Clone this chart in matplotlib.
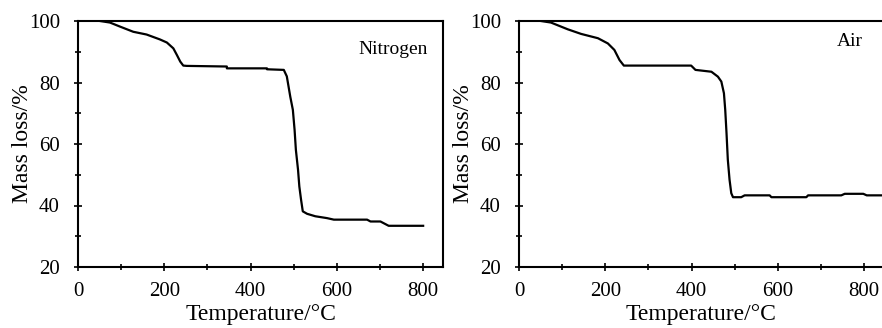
import matplotlib
matplotlib.use("Agg")
import matplotlib.pyplot as plt
from matplotlib.ticker import MultipleLocator

plt.rcParams['font.family'] = ['Liberation Serif', 'DejaVu Serif']

n2_temp = [51, 74, 97, 128, 159, 190, 206, 221, 229, 237, 244, 252, 345, 345, 438, 438, 477,
           484, 488, 492, 498, 502, 505, 510, 513, 517, 521, 531, 550, 577, 593, 670, 678,
           701, 720, 800]
n2_mass = [100, 99.5, 98.2, 96.5, 95.6, 94.0, 93.0, 91.1, 89.0, 86.8, 85.5, 85.4, 85.2, 84.6,
           84.6, 84.3, 84.1, 82.0, 78.7, 75.4, 71.1, 64.6, 58.1, 51.6, 46.2, 41.9, 38.1,
           37.3, 36.5, 35.9, 35.4, 35.4, 34.8, 34.8, 33.4, 33.4]

air_temp = [51, 74, 113, 144, 183, 206, 221, 233, 243, 399, 409, 446, 461, 469, 475, 478, 481,
            484, 488, 492, 496, 515, 523, 581, 585, 666, 670, 747, 755, 798, 806, 850]
air_mass = [100, 99.5, 97.3, 95.8, 94.4, 92.7, 90.6, 87.3, 85.5, 85.5, 84.1, 83.5, 81.9, 80.3,
            76.5, 71.1, 63.5, 54.9, 48.4, 44.0, 42.7, 42.7, 43.3, 43.3, 42.7, 42.7, 43.3,
            43.3, 43.8, 43.8, 43.3, 43.3]

x_ticks = [0, 200, 400, 600, 800]
y_ticks = [20, 40, 60, 80, 100]
x_label = "Temperature/°C"
y_label = "Mass loss/%"

fig = plt.figure(figsize=(8.82, 3.28), dpi=100)
ax1 = fig.add_axes([78/882, 61/328, 365/882, 246/328])
ax2 = fig.add_axes([519/882, 61/328, 365/882, 246/328])

for ax, t, m, label, pos in [(ax1, n2_temp, n2_mass, "Nitrogen", (730, 90.6)),
                             (ax2, air_temp, air_mass, "Air", (767, 93.2))]:
    ax.plot(t, m, color='black', lw=1.6)
    ax.set_xlim(0, 846)
    ax.set_ylim(20, 100)
    ax.set_xticks(x_ticks)
    ax.set_yticks(y_ticks)
    ax.xaxis.set_minor_locator(MultipleLocator(100))
    ax.yaxis.set_minor_locator(MultipleLocator(10))
    ax.tick_params(which='major', direction='inout', length=6, width=1.2, labelsize=15)
    ax.tick_params(axis='x', which='major', pad=8)
    ax.tick_params(axis='y', which='major', pad=10)
    ax.tick_params(which='minor', direction='inout', length=4, width=1.2)
    ax.tick_params(top=False, right=False, which='both')
    for s in ax.spines.values():
        s.set_linewidth(1.5)
    ax.set_xlabel(x_label, fontsize=17)
    ax.set_ylabel(y_label, fontsize=17)
    ax.xaxis.set_label_coords(0.5, -0.15)
    ax.yaxis.set_label_coords(-0.122, 0.5)
    ax.text(pos[0], pos[1], label, fontsize=14, ha='center', va='center')

fig.savefig("out.png", dpi=100)
